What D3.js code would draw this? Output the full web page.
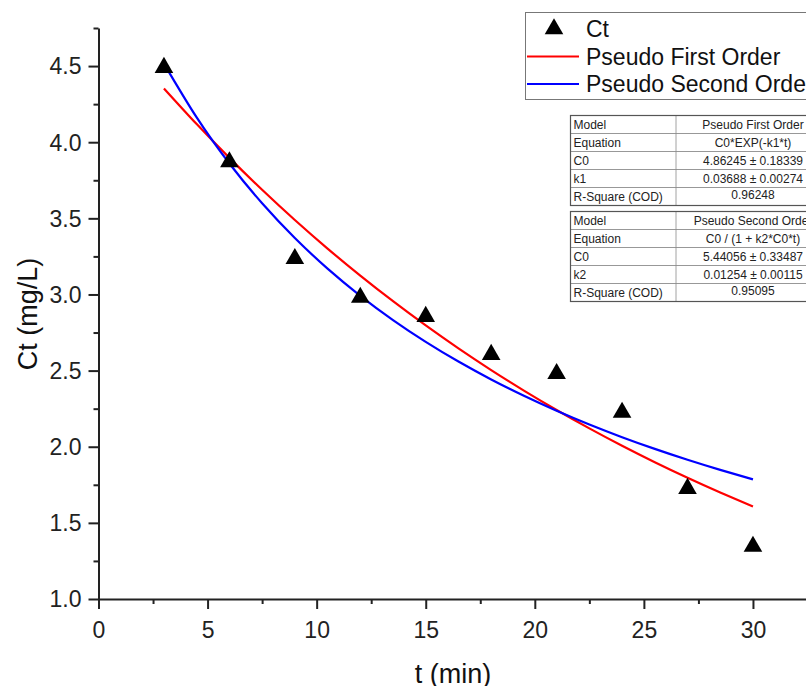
<!DOCTYPE html>
<html>
<head>
<meta charset="utf-8">
<script src="https://cdn.jsdelivr.net/npm/d3@7"></script>
<style>
  body { margin: 0; background: #fff; }
  svg { display: block; font-family: Arial, 'Liberation Sans', sans-serif; }
</style>
</head>
<body>
<svg id="chart" width="806" height="686"></svg>
<script>
// measured Ct values (mg/L) against time (min)
const times = [3, 6, 9, 12, 15, 18, 21, 24, 27, 30];
const ctValues = [4.50, 3.88, 3.245, 2.99, 2.865, 2.615, 2.49, 2.235, 1.735, 1.355];

// fitted curves, sampled every 1.5 min from 3 to 30
const curveTimes = [3, 4.5, 6, 7.5, 9, 10.5, 12, 13.5, 15, 16.5, 18, 19.5, 21, 22.5, 24, 25.5, 27, 28.5, 30];
const firstOrder = [4.3532, 4.1189, 3.8972, 3.6875, 3.4890, 3.3013, 3.1236, 2.9555, 2.7964, 2.6459,
    2.5035, 2.3688, 2.2413, 2.1207, 2.0066, 1.8986, 1.7964, 1.6997, 1.6082];
const secondOrder = [4.5162, 4.1626, 3.8603, 3.5990, 3.3708, 3.1698, 2.9915, 2.8321, 2.6889, 2.5594,
    2.4419, 2.3346, 2.2364, 2.1461, 2.0629, 1.9858, 1.9143, 1.8478, 1.7857];

// tick labels
const xTicks = [0, 5, 10, 15, 20, 25, 30];
const xMinor = [2.5, 7.5, 12.5, 17.5, 22.5, 27.5, 32.5];
const yTicks = [1.0, 1.5, 2.0, 2.5, 3.0, 3.5, 4.0, 4.5];
const yMinor = [1.25, 1.75, 2.25, 2.75, 3.25, 3.75, 4.25, 4.75];

// legend and fit tables
const legendItems = [
    {label: 'Ct', type: 'symbol', color: '#000'},
    {label: 'Pseudo First Order', type: 'line', color: '#ff0000'},
    {label: 'Pseudo Second Order', type: 'line', color: '#0000ff'}
];
const table1Rows = [
    ['Model', 'Pseudo First Order'],
    ['Equation', 'C0*EXP(-k1*t)'],
    ['C0', '4.86245 \u00b1 0.18339'],
    ['k1', '0.03688 \u00b1 0.00274'],
    ['R-Square (COD)', '0.96248']
];
const table2Rows = [
    ['Model', 'Pseudo Second Order'],
    ['Equation', 'C0 / (1 + k2*C0*t)'],
    ['C0', '5.44056 \u00b1 0.33487'],
    ['k2', '0.01254 \u00b1 0.00115'],
    ['R-Square (COD)', '0.95095']
];

const svg = d3.select('#chart');
const x = d3.scaleLinear().domain([0, 32.5]).range([98.5, 807.5]);
const y = d3.scaleLinear().domain([1, 4.75]).range([599, 28]);

// minor ticks
svg.append('g')
    .attr('transform', 'translate(0,599)')
    .call(d3.axisBottom(x).tickValues(xMinor).tickSize(5).tickSizeOuter(0).tickFormat(''))
    .call(g => g.select('.domain').remove())
    .selectAll('line').attr('stroke', '#222').attr('stroke-width', 2);
svg.append('g')
    .attr('transform', 'translate(98.5,0)')
    .call(d3.axisLeft(y).tickValues(yMinor).tickSize(5).tickSizeOuter(0).tickFormat(''))
    .call(g => g.select('.domain').remove())
    .selectAll('line').attr('stroke', '#222').attr('stroke-width', 2);

// major axes
let xAxis = svg.append('g')
    .attr('transform', 'translate(0,599)')
    .call(d3.axisBottom(x).tickValues(xTicks).tickSize(10).tickSizeOuter(0).tickPadding(5));
let yAxis = svg.append('g')
    .attr('transform', 'translate(98.5,0)')
    .call(d3.axisLeft(y).tickValues(yTicks).tickSize(10).tickSizeOuter(0).tickPadding(7).tickFormat(d3.format('.1f')));
[xAxis, yAxis].forEach(a => {
    a.select('.domain').attr('stroke', '#222').attr('stroke-width', 2);
    a.selectAll('line').attr('stroke', '#222').attr('stroke-width', 2);
    a.selectAll('text').attr('fill', '#222').style('font-size', '23px')
        .style('font-family', "Arial, 'Liberation Sans', sans-serif");
});
xAxis.selectAll('text').attr('dy', '1.05em');
yAxis.selectAll('text').attr('dy', '0.34em');

// axis titles
svg.append('text')
    .attr('x', 453).attr('y', 683)
    .attr('text-anchor', 'middle')
    .style('font-size', '27px').attr('fill', '#111')
    .text('t (min)');
svg.append('text')
    .attr('transform', 'translate(37,314) rotate(-90)')
    .attr('text-anchor', 'middle')
    .style('font-size', '27px').attr('fill', '#111')
    .text('Ct (mg/L)');

// fitted lines
let line = d3.line().x((d, i) => x(curveTimes[i])).y(d => y(d)).curve(d3.curveNatural);
svg.append('path').datum(firstOrder)
    .attr('d', line).attr('fill', 'none').attr('stroke', '#ff0000').attr('stroke-width', 2.2);
svg.append('path').datum(secondOrder)
    .attr('d', line).attr('fill', 'none').attr('stroke', '#0000ff').attr('stroke-width', 2.2);

// data points
let tri = d3.symbol().type(d3.symbolTriangle).size(150);
svg.append('g').selectAll('path')
    .data(ctValues)
    .join('path')
    .attr('d', tri)
    .attr('transform', (d, i) => 'translate(' + x(times[i]) + ',' + (y(d) + 1.5) + ')')
    .attr('fill', '#000');

// legend
let legend = svg.append('g');
legend.append('rect')
    .attr('x', 525.5).attr('y', 12.5).attr('width', 300).attr('height', 87)
    .attr('fill', '#fff').attr('stroke', '#777').attr('stroke-width', 1);
legendItems.forEach((item, i) => {
    let cy = 29 + i * 27.5;
    if (item.type == 'symbol') {
        legend.append('path').attr('d', tri)
            .attr('transform', 'translate(554,' + cy + ')').attr('fill', item.color);
    } else {
        legend.append('line')
            .attr('x1', 527).attr('x2', 579).attr('y1', cy).attr('y2', cy)
            .attr('stroke', item.color).attr('stroke-width', 2.2);
    }
    legend.append('text')
        .attr('x', 586).attr('y', cy + 8)
        .style('font-size', '23px').attr('fill', '#111')
        .text(item.label);
});

// parameter tables
function drawTable(rows, top) {
    let rowH = 18, left = 570.5, mid = 676, right = 836;
    let g = svg.append('g');
    rows.forEach((r, i) => {
        let ry = top + i * rowH;
        g.append('rect')
            .attr('x', left).attr('y', ry).attr('width', right - left).attr('height', rowH)
            .attr('fill', '#fff').attr('stroke', '#8a8a8a').attr('stroke-width', 0.8);
        g.append('text')
            .attr('x', left + 3).attr('y', ry + 13)
            .style('font-size', '12px').attr('fill', '#222')
            .text(r[0]);
        g.append('text')
            .attr('x', 753).attr('y', ry + 13 - (i == 4 ? 2 : 0))
            .attr('text-anchor', 'middle')
            .style('font-size', '12px').attr('fill', '#222')
            .text(r[1]);
    });
    g.append('line')
        .attr('x1', mid).attr('x2', mid).attr('y1', top).attr('y2', top + rows.length * rowH)
        .attr('stroke', '#8a8a8a').attr('stroke-width', 0.8);
    g.append('rect')
        .attr('x', left).attr('y', top).attr('width', right - left).attr('height', rows.length * rowH)
        .attr('fill', 'none').attr('stroke', '#555').attr('stroke-width', 1.2);
}
drawTable(table1Rows, 115.5);
drawTable(table2Rows, 211.5);
</script>
</body>
</html>
